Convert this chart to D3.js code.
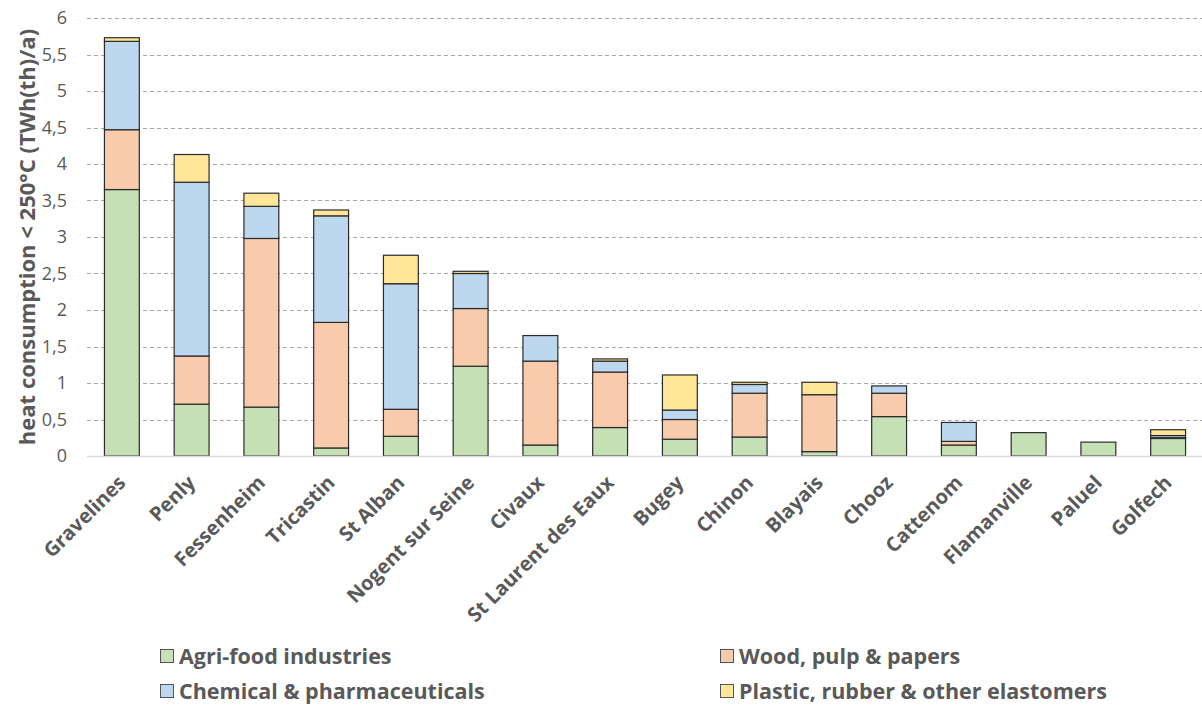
<!DOCTYPE html>
<html>
<head>
<meta charset="utf-8">
<script src="https://cdn.jsdelivr.net/npm/d3@7"></script>
<style>
  body { margin: 0; background: #fff; }
  text { font-family: "Open Sans", sans-serif; fill: #595959; }
</style>
</head>
<body>
<div id="chart"></div>
<script>
// Data.
const sites = ['Gravelines', 'Penly', 'Fessenheim', 'Tricastin', 'St Alban', 'Nogent sur Seine',
  'Civaux', 'St Laurent des Eaux', 'Bugey', 'Chinon', 'Blayais', 'Chooz', 'Cattenom',
  'Flamanville', 'Paluel', 'Golfech'];
const agriFood = [3.65, 0.71, 0.67, 0.11, 0.27, 1.23, 0.15, 0.39, 0.23, 0.26, 0.06, 0.54, 0.15, 0.32, 0.19, 0.24];
const woodPulp = [0.82, 0.66, 2.31, 1.72, 0.37, 0.79, 1.15, 0.76, 0.27, 0.60, 0.78, 0.32, 0.05, 0, 0, 0.01];
const chemical = [1.21, 2.38, 0.44, 1.46, 1.72, 0.48, 0.35, 0.15, 0.13, 0.12, 0, 0.10, 0.26, 0, 0, 0.03];
const plastic = [0.05, 0.38, 0.18, 0.08, 0.39, 0.03, 0, 0.03, 0.48, 0.03, 0.17, 0, 0, 0, 0, 0.08];
const yTicks = [0, 0.5, 1, 1.5, 2, 2.5, 3, 3.5, 4, 4.5, 5, 5.5, 6];

const seriesNames = ['Agri-food industries', 'Wood, pulp & papers', 'Chemical & pharmaceuticals', 'Plastic, rubber & other elastomers'];
const seriesKeys = ['agri', 'wood', 'chem', 'plas'];
const colors = ['#C5E0B4', '#F8CBAD', '#BDD7EE', '#FFE699'];

// SVG constants.
const width = 1202;
const height = 706;

const rows = sites.map((s, i) => ({
  site: s, agri: agriFood[i], wood: woodPulp[i], chem: chemical[i], plas: plastic[i]
}));

const x = d3.scaleBand()
  .domain(sites)
  .range([87, 1203])
  .paddingInner(0.5)
  .paddingOuter(0.25);

const y = d3.scaleLinear()
  .domain([0, 6])
  .range([456, 18]);

const color = d3.scaleOrdinal().domain(seriesKeys).range(colors);

const svg = d3.select('#chart')
  .append('svg')
  .attr('width', width)
  .attr('height', height);

// Gridlines.
svg.append('g')
  .selectAll('line')
  .data(yTicks.filter(d => d > 0))
  .enter()
  .append('line')
  .attr('x1', 87)
  .attr('x2', 1202)
  .attr('y1', d => Math.round(y(d)) + 0.5)
  .attr('y2', d => Math.round(y(d)) + 0.5)
  .attr('stroke', '#a6a6a6')
  .attr('stroke-dasharray', '4,3');

// Y axis labels.
const yAxis = d3.axisLeft(y)
  .tickValues(yTicks)
  .tickSize(0)
  .tickPadding(0)
  .tickFormat(d => String(d).replace('.', ','));

svg.append('g')
  .attr('transform', 'translate(67,0)')
  .call(yAxis)
  .call(g => g.select('.domain').remove())
  .selectAll('text')
  .style('font-family', '"Open Sans", sans-serif')
  .style('font-size', '18px')
  .attr('fill', '#595959');

// Stacked bars.
const stack = d3.stack().keys(seriesKeys);
const layers = stack(rows);

svg.append('g')
  .selectAll('g')
  .data(layers)
  .enter()
  .append('g')
  .attr('fill', d => color(d.key))
  .selectAll('rect')
  .data(d => d.filter(p => p[1] - p[0] > 0))
  .enter()
  .append('rect')
  .attr('x', d => x(d.data.site))
  .attr('y', d => y(d[1]))
  .attr('width', x.bandwidth())
  .attr('height', d => y(d[0]) - y(d[1]))
  .attr('stroke', '#2b2b2b')
  .attr('stroke-width', 1.2);

// Baseline.
svg.append('line')
  .attr('x1', 87)
  .attr('x2', 1202)
  .attr('y1', y(0) + 0.5)
  .attr('y2', y(0) + 0.5)
  .attr('stroke', '#d9d9d9')
  .attr('stroke-width', 1.5);

// X axis labels.
svg.append('g')
  .selectAll('text')
  .data(sites)
  .enter()
  .append('text')
  .attr('transform', d => 'translate(' + (x(d) + x.bandwidth() / 2) + ',479) rotate(-45)')
  .attr('text-anchor', 'end')
  .attr('dy', '0.35em')
  .style('font-size', '20px')
  .style('font-weight', 'bold')
  .text(d => d);

// Y axis title.
svg.append('text')
  .attr('transform', 'translate(27,' + y(3) + ') rotate(-90)')
  .attr('text-anchor', 'middle')
  .attr('dy', '0.35em')
  .style('font-size', '22px')
  .style('font-weight', 'bold')
  .text('heat consumption < 250°C (TWh(th)/a)');

// Legend.
const legendPos = [[160, 656], [720, 656], [160, 691], [720, 691]];
const legend = svg.append('g')
  .selectAll('g')
  .data(seriesKeys)
  .enter()
  .append('g')
  .attr('transform', (d, i) => 'translate(' + legendPos[i][0] + ',' + legendPos[i][1] + ')');

legend.append('rect')
  .attr('x', 0.5)
  .attr('y', -6.5)
  .attr('width', 13)
  .attr('height', 13)
  .attr('fill', d => color(d))
  .attr('stroke', '#555');

legend.append('text')
  .attr('x', 19)
  .attr('dy', '0.35em')
  .style('font-size', '21.5px')
  .style('font-weight', 'bold')
  .text((d, i) => seriesNames[i]);
</script>
</body>
</html>
